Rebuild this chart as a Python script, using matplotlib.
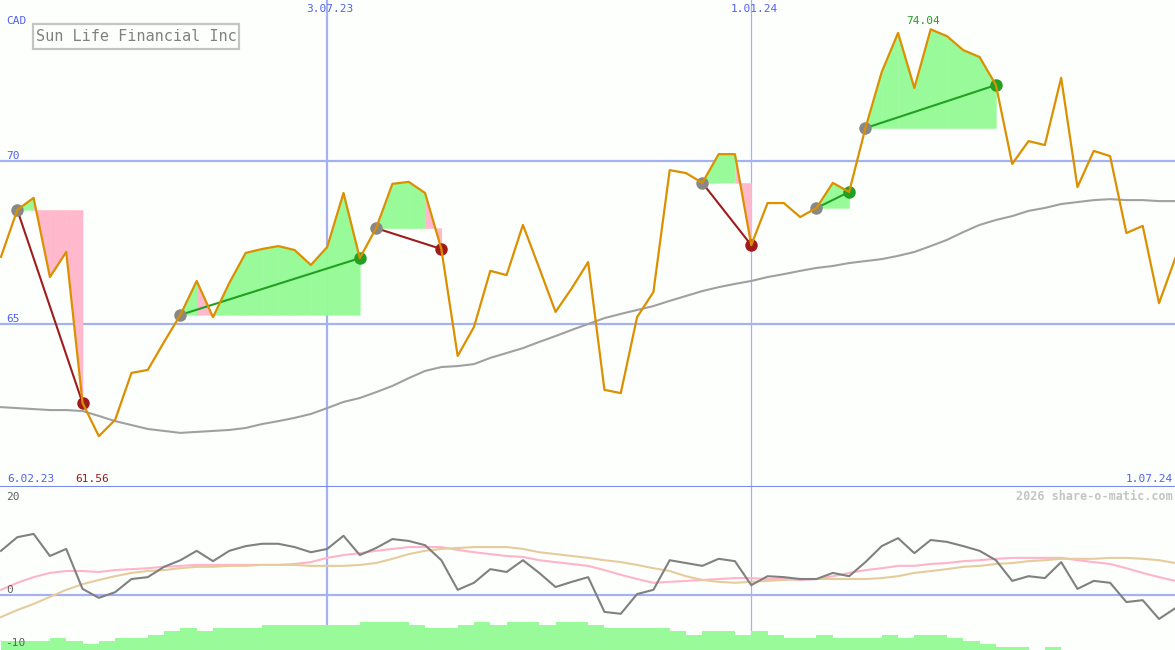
import numpy as np
import matplotlib
matplotlib.use('Agg')
import matplotlib.pyplot as plt
from matplotlib.patches import Rectangle

# weekly closes, CAD
price = [67.06, 68.50, 68.87, 66.44, 67.21, 62.58, 61.56, 62.06, 63.50, 63.59,
         64.45, 65.28, 66.32, 65.21, 66.26, 67.18, 67.30, 67.39, 67.27, 66.81,
         67.36, 69.02, 67.02, 67.94, 69.30, 69.36, 69.02, 67.30, 64.02, 64.91,
         66.63, 66.50, 68.04, 66.72, 65.37, 66.10, 66.90, 62.98, 62.88, 65.21,
         65.98, 69.72, 69.63, 69.33, 70.21, 70.21, 67.42, 68.71, 68.71, 68.28,
         68.56, 69.33, 69.05, 71.01, 72.73, 73.93, 72.24, 74.04, 73.83, 73.40,
         73.19, 72.33, 69.91, 70.61, 70.49, 72.55, 69.20, 70.31, 70.15, 67.79,
         68.01, 65.64, 67.02]

# long moving average
ma = [62.45, 62.42, 62.39, 62.36, 62.36, 62.33, 62.18, 62.02, 61.90, 61.78,
      61.72, 61.66, 61.69, 61.72, 61.75, 61.81, 61.93, 62.02, 62.12, 62.24,
      62.42, 62.61, 62.73, 62.91, 63.10, 63.34, 63.56, 63.68, 63.71, 63.77,
      63.96, 64.11, 64.26, 64.45, 64.63, 64.82, 65.00, 65.18, 65.31, 65.43,
      65.55, 65.71, 65.86, 66.01, 66.13, 66.23, 66.32, 66.44, 66.53, 66.63,
      66.72, 66.78, 66.87, 66.93, 66.99, 67.09, 67.21, 67.39, 67.58, 67.82,
      68.04, 68.19, 68.31, 68.47, 68.56, 68.68, 68.74, 68.80, 68.83, 68.80,
      68.80, 68.77, 68.77]

# (entry week, exit week)
trades = [(1, 5), (11, 22), (23, 27), (43, 46), (50, 52), (53, 61)]

# lower panel indicator
momentum = [9.4, 12.3, 13.0, 8.3, 9.8, 1.3, -0.6, 0.6, 3.4, 3.8,
            6.0, 7.4, 9.4, 7.2, 9.4, 10.4, 10.9, 10.9, 10.2, 9.1,
            9.8, 12.6, 8.5, 10.0, 11.9, 11.5, 10.6, 7.4, 1.1, 2.6,
            5.5, 4.9, 7.4, 4.7, 1.7, 2.8, 3.8, -3.6, -4.0, 0.2,
            1.1, 7.4, 6.8, 6.2, 7.7, 7.2, 2.1, 4.0, 3.8, 3.4,
            3.4, 4.7, 4.0, 7.0, 10.4, 12.1, 8.9, 11.7, 11.3, 10.4,
            9.4, 7.4, 3.0, 4.0, 3.6, 7.0, 1.3, 3.0, 2.6, -1.5,
            -1.1, -5.1, -2.8]
fast_avg = [1.1, 2.6, 3.8, 4.7, 5.1, 5.1, 4.9, 5.3, 5.5, 5.7,
            6.0, 6.2, 6.4, 6.4, 6.4, 6.4, 6.4, 6.4, 6.6, 7.0,
            7.9, 8.5, 8.9, 9.4, 9.8, 10.2, 10.2, 10.2, 9.6, 9.1,
            8.7, 8.3, 8.1, 7.4, 7.0, 6.6, 6.2, 5.3, 4.3, 3.4,
            2.6, 2.8, 3.0, 3.2, 3.4, 3.6, 3.6, 3.4, 3.4, 3.2,
            3.4, 4.0, 4.7, 5.3, 5.7, 6.2, 6.2, 6.6, 6.8, 7.2,
            7.4, 7.7, 7.9, 7.9, 7.9, 7.9, 7.4, 7.0, 6.6, 5.7,
            4.7, 3.8, 3.0]
slow_avg = [-4.7, -3.2, -1.9, -0.4, 1.1, 2.3, 3.2, 4.0, 4.7, 5.1,
            5.3, 5.7, 6.0, 6.0, 6.2, 6.2, 6.4, 6.4, 6.4, 6.2,
            6.2, 6.2, 6.4, 6.8, 7.7, 8.7, 9.4, 9.8, 10.0, 10.2,
            10.2, 10.2, 9.8, 9.1, 8.7, 8.3, 7.9, 7.4, 7.0, 6.4,
            5.7, 5.1, 4.0, 3.2, 2.8, 2.6, 2.8, 3.0, 3.2, 3.4,
            3.4, 3.4, 3.4, 3.4, 3.6, 4.0, 4.7, 5.1, 5.5, 6.0,
            6.2, 6.6, 6.8, 7.2, 7.4, 7.7, 7.7, 7.7, 7.9, 7.9,
            7.7, 7.4, 6.8]
bars = [1.9, 1.9, 1.9, 2.6, 1.9, 1.3, 1.9, 2.6, 2.6, 3.2,
        4.0, 4.7, 4.0, 4.7, 4.7, 4.7, 5.3, 5.3, 5.3, 5.3,
        5.3, 5.3, 6.0, 6.0, 6.0, 5.3, 4.7, 4.7, 5.3, 6.0,
        5.3, 6.0, 6.0, 5.3, 6.0, 6.0, 5.3, 4.7, 4.7, 4.7,
        4.7, 4.0, 3.2, 4.0, 4.0, 3.2, 4.0, 3.2, 2.6, 2.6,
        3.2, 2.6, 2.6, 2.6, 3.2, 2.6, 3.2, 3.2, 2.6, 1.9,
        1.3, 0.6, 0.6, 0.0, 0.6, 0.0, 0.0, 0.0, 0.0, 0.0,
        0.0, 0.0, 0.0]

date_marks = {20: '3.07.23', 46: '1.01.24'}

W, H = 1175, 650
bg = '#fdfffd'
grid = '#a4b2f2'
blue_txt = '#5060f0'
mono = 'DejaVu Sans Mono'

x = np.arange(len(price))
fig = plt.figure(figsize=(W / 100, H / 100), dpi=100, facecolor=bg)
split = (H - 487) / H
ax = fig.add_axes([0, split, 1, 1 - split])
ax2 = fig.add_axes([0, 0, 1, split])
for a in (ax, ax2):
    a.set_facecolor(bg)
    a.set_xlim(-0.06, 71.98)
    for s in a.spines.values():
        s.set_visible(False)
    a.set_xticks([])
    a.set_yticks([])

ax.set_ylim(60, 60 + 487 / 32.6)
ax2.set_ylim(-55 / 4.7, 108 / 4.7)

# grid
for lvl in (65, 70):
    ax.axhline(lvl, color=grid, lw=1.6, zorder=1)
ax.axhline(60, color='#7888f0', lw=2.2, zorder=6, clip_on=False)
ax2.axhline(0, color=grid, lw=1.6, zorder=1)
ax.axvline(20, color=grid, lw=1.6, zorder=1)
ax2.axvline(20, color=grid, lw=1.6, zorder=1)
ax.axvline(46, color=grid, lw=0.9, zorder=1)
ax2.axvline(46, color=grid, lw=0.9, zorder=1)

# trades
green_fill, pink_fill = '#98fa98', '#ffb8cc'
for a_i, b_i in trades:
    e = price[a_i]
    for k in range(a_i, b_i):
        col = green_fill if price[k + 1] >= e else pink_fill
        ax.fill_between([k, k + 1], [price[k], price[k + 1]], e,
                        color=col, lw=0.3, zorder=2)
    win = price[b_i] >= e
    lc = '#22a022' if win else '#a01c1c'
    ax.plot([a_i, b_i], [e, price[b_i]], color=lc, lw=1.5, zorder=3)
    ax.plot(a_i, e, 'o', color='#888888', ms=9, mew=0, zorder=4)
    ax.plot(b_i, price[b_i], 'o', color=lc, ms=9, mew=0, zorder=4)

ax.plot(x, ma, color='#a0a0a0', lw=1.5, zorder=3)
ax.plot(x, price, color='#dc9000', lw=1.6, zorder=5)

# lower panel
ax2.bar(x, bars, width=1.0, align='edge', bottom=-55 / 4.7,
        color='#98fa98', lw=0, zorder=1)
ax2.plot(x, fast_avg, color='#ffb4c8', lw=1.5, zorder=2)
ax2.plot(x, slow_avg, color='#e6cc9c', lw=1.5, zorder=2)
ax2.plot(x, momentum, color='#808080', lw=1.5, zorder=3)


def ptext(px, py, s, color, size=8, ha='left', **kw):
    fig.text(px / W, 1 - py / H, s, color=color, fontsize=size, ha=ha,
             va='center', family=mono, **kw)


ptext(6, 21, 'CAD', blue_txt)
ptext(6, 156, '70', blue_txt)
ptext(6, 319, '65', blue_txt)
ptext(7, 479, '6.02.23', blue_txt)
ptext(1173, 479, '1.07.24', blue_txt, ha='right')
for i, lab in date_marks.items():
    ptext(1 + 16.31 * i + 3, 9, lab, blue_txt, ha='center')
i_max = int(np.argmax(price))
i_min = int(np.argmin(price))
ptext(1 + 16.31 * i_max - 8, 21, f'{price[i_max]:.2f}', '#22a022', ha='center')
ptext(1 + 16.31 * i_min - 7, 479, f'{price[i_min]:.2f}', '#a01c1c', ha='center')
ptext(1173, 497, '2026 share-o-matic.com', '#c4c4c4', size=8.5, ha='right',
      weight='bold')
ptext(6, 497, '20', '#606060')
ptext(6, 590, '0', '#606060')
ptext(5, 643, '-10', '#606060')

# title box
fig.patches.append(Rectangle((33 / W, 1 - 49 / H), 206 / W, 25 / H,
                             transform=fig.transFigure, facecolor=bg,
                             edgecolor='#c4c4c4', lw=1.6, zorder=10))
fig.text(136 / W, 1 - 36.5 / H, 'Sun Life Financial Inc', color='#808080',
         fontsize=11, ha='center', va='center', family=mono, zorder=11)

fig.savefig('out.png', dpi=100, facecolor=bg)
